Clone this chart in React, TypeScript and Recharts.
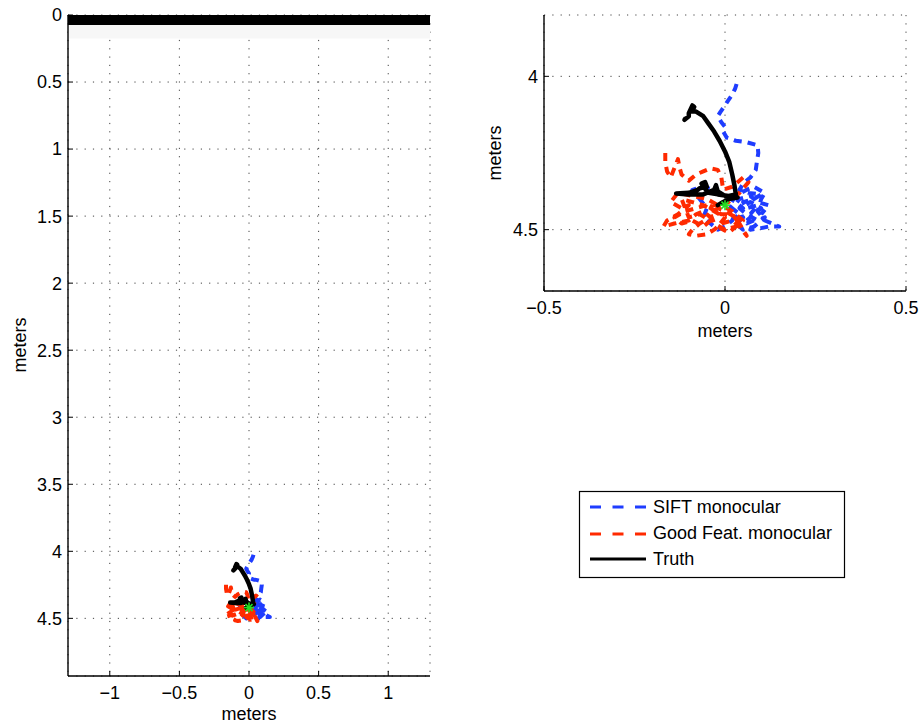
// ── Monocular SLAM trajectory comparison: full room + zoomed start ──────────

import { ScatterChart, Scatter, XAxis, YAxis, CartesianGrid, ReferenceArea } from 'recharts'

const FONT = '"Liberation Sans", Arial, Helvetica, sans-serif'

// trajectories in metres, [x, y]
const SIFT: [number, number][] = [
  [0.032, 4.025], [0.028, 4.04], [0.02, 4.06], [0.008, 4.08], [0, 4.095], [-0.012, 4.115],
  [-0.02, 4.13], [-0.01, 4.15], [0, 4.165], [-0.005, 4.18], [0.005, 4.2], [0.03, 4.21],
  [0.06, 4.215], [0.09, 4.225], [0.092, 4.25], [0.088, 4.28], [0.085, 4.305], [0.07, 4.33],
  [0.05, 4.35], [0.04, 4.37], [0.065, 4.38], [0.1, 4.385], [0.08, 4.4], [0.05, 4.41],
  [0.06, 4.43], [0.09, 4.42], [0.07, 4.45], [0.04, 4.46], [0.06, 4.48], [0.08, 4.47],
  [0.07, 4.5], [0.1, 4.495], [0.12, 4.49], [0.15, 4.49], [0.11, 4.47], [0.09, 4.44],
  [0.1, 4.4], [0.11, 4.38], [0.08, 4.36], [0.06, 4.37], [0.03, 4.39], [0.01, 4.42],
  [0.03, 4.44], [0.02, 4.47], [0, 4.49], [-0.02, 4.5], [-0.04, 4.48], [-0.06, 4.46],
  [-0.05, 4.43], [-0.07, 4.4], [-0.09, 4.37], [-0.06, 4.36], [-0.03, 4.37], [0, 4.39],
  [0.03, 4.41], [0.05, 4.43], [0.03, 4.46], [0.06, 4.47], [0.08, 4.45], [0.1, 4.43],
  [0.07, 4.41], [0.04, 4.43], [0.06, 4.45], [0.09, 4.47], [0.11, 4.46], [0.08, 4.49],
  [0.05, 4.5], [0.03, 4.48], [0.05, 4.46], [0.02, 4.43], [0.04, 4.4], [0.07, 4.39],
  [0.09, 4.41], [0.12, 4.42], [0.1, 4.45],
]

const GOOD_FEAT: [number, number][] = [
  [-0.165, 4.25], [-0.165, 4.28], [-0.16, 4.31], [-0.15, 4.33], [-0.14, 4.3], [-0.13, 4.27],
  [-0.125, 4.3], [-0.12, 4.32], [-0.1, 4.34], [-0.08, 4.32], [-0.06, 4.31], [-0.04, 4.3],
  [-0.02, 4.305], [-0.01, 4.33], [-0.005, 4.37], [0.02, 4.36], [0.05, 4.33], [0.065, 4.345],
  [0.04, 4.38], [0.01, 4.41], [-0.02, 4.42], [-0.05, 4.4], [-0.09, 4.39], [-0.13, 4.38],
  [-0.15, 4.41], [-0.12, 4.43], [-0.1, 4.42], [-0.13, 4.45], [-0.16, 4.47], [-0.17, 4.49],
  [-0.14, 4.48], [-0.1, 4.47], [-0.08, 4.45], [-0.06, 4.44], [-0.04, 4.46], [-0.07, 4.48],
  [-0.09, 4.5], [-0.1, 4.515], [-0.08, 4.52], [-0.05, 4.515], [-0.03, 4.5], [-0.01, 4.48],
  [0.02, 4.47], [0.04, 4.49], [0.06, 4.52], [0.05, 4.5], [0.03, 4.46], [0, 4.44],
  [-0.02, 4.43], [-0.04, 4.45], [-0.03, 4.48], [0, 4.5], [0.03, 4.49], [0.05, 4.47],
  [0.02, 4.44], [-0.01, 4.42], [-0.05, 4.42], [-0.08, 4.43], [-0.11, 4.44], [-0.14, 4.46],
  [-0.12, 4.48], [-0.09, 4.47], [-0.06, 4.49], [-0.04, 4.47], [-0.07, 4.45], [-0.1, 4.46],
  [-0.12, 4.4], [-0.09, 4.41], [-0.06, 4.42], [-0.03, 4.44], [0, 4.46], [-0.02, 4.49],
  [0.01, 4.51], [0.04, 4.48], [0.02, 4.45], [-0.01, 4.45], [-0.04, 4.43], [-0.03, 4.41],
]

const TRUTH: [number, number][] = [
  [-0.108, 4.135], [-0.112, 4.142], [-0.1, 4.13], [-0.1, 4.12], [-0.09, 4.095], [-0.085, 4.1],
  [-0.095, 4.115], [-0.08, 4.115], [-0.06, 4.13], [-0.045, 4.155], [-0.03, 4.18], [-0.015, 4.21],
  [0, 4.245], [0.012, 4.28], [0.02, 4.32], [0.026, 4.355], [0.03, 4.385], [0.01, 4.39],
  [-0.02, 4.385], [-0.045, 4.38], [-0.06, 4.36], [-0.065, 4.35], [-0.055, 4.345], [-0.05, 4.36],
  [-0.07, 4.365], [-0.075, 4.37], [-0.1, 4.38], [-0.135, 4.382], [-0.1, 4.385], [-0.06, 4.385],
  [-0.03, 4.37], [-0.025, 4.355], [-0.02, 4.375], [0, 4.39], [0.035, 4.395], [0.01, 4.4],
  [-0.02, 4.42], [-0.005, 4.41],
]

const START: [number, number][] = [[0, 4.42]]

const FULL_X_DOMAIN = [-1.3, 1.3]
const FULL_Y_DOMAIN = [0, 4.93]
const FULL_X_TICKS = [-1, -0.5, 0, 0.5, 1]
const FULL_Y_TICKS = [0, 0.5, 1, 1.5, 2, 2.5, 3, 3.5, 4, 4.5]

const ZOOM_X_DOMAIN = [-0.5, 0.5]
const ZOOM_Y_DOMAIN = [3.8, 4.7]
const ZOOM_X_TICKS = [-0.5, 0, 0.5]
const ZOOM_Y_TICKS = [4, 4.5]

// wall drawn along the top of the room, and the faint strip under it
const WALL_BAND = [0, 0.075]
const SHADE_BAND = [0.075, 0.175]

const SERIES = [
  { key: 'sift',  label: 'SIFT monocular',       pts: SIFT,      color: '#1f3dff', dash: '8 6', width: 4 },
  { key: 'good',  label: 'Good Feat. monocular', pts: GOOD_FEAT, color: '#ff2a00', dash: '8 6', width: 4 },
  { key: 'truth', label: 'Truth',                pts: TRUTH,     color: '#000000', dash: undefined, width: 4.5 },
]

const toXY = (pts: [number, number][]) => pts.map(([x, y]) => ({ x, y }))

const fmt = (v: number) => String(v).replace('-', '\u2212')

const Star = (p: any) => {
  const { cx, cy } = p
  const r = 5
  return (
    <g stroke="#22e022" strokeWidth={1.6}>
      <line x1={cx - r} y1={cy} x2={cx + r} y2={cy} />
      <line x1={cx} y1={cy - r} x2={cx} y2={cy + r} />
      <line x1={cx - r * 0.7} y1={cy - r * 0.7} x2={cx + r * 0.7} y2={cy + r * 0.7} />
      <line x1={cx - r * 0.7} y1={cy + r * 0.7} x2={cx + r * 0.7} y2={cy - r * 0.7} />
    </g>
  )
}

const noDot = () => <g />

interface PanelProps {
  width: number; height: number
  margin: { top: number; right: number; bottom: number; left: number }
  yAxisWidth: number; xAxisHeight: number
  xDomain: number[]; yDomain: number[]
  xTicks: number[]; yTicks: number[]
  wall?: boolean
}

function Panel(p: PanelProps) {
  const tickStyle = { fontSize: 18, fill: '#000', fontFamily: FONT }
  const axisLine = { stroke: '#000', strokeWidth: 1.4 }
  return (
    <ScatterChart width={p.width} height={p.height} margin={p.margin}>
      <CartesianGrid stroke="#444" strokeDasharray="1.2 7.1" xAxisId="b" yAxisId="l" />
      {p.wall && (
        <ReferenceArea xAxisId="b" yAxisId="l" x1={p.xDomain[0]} x2={p.xDomain[1]}
                       y1={SHADE_BAND[0]} y2={SHADE_BAND[1]} fill="#f7f7f7" fillOpacity={1} stroke="none" />
      )}
      {p.wall && (
        <ReferenceArea xAxisId="b" yAxisId="l" x1={p.xDomain[0]} x2={p.xDomain[1]}
                       y1={WALL_BAND[0]} y2={WALL_BAND[1]} fill="#000" fillOpacity={1} stroke="none" />
      )}
      <XAxis xAxisId="b" type="number" dataKey="x" domain={p.xDomain} ticks={p.xTicks} interval={0}
             allowDataOverflow height={p.xAxisHeight} tick={tickStyle} tickFormatter={fmt}
             tickSize={-5} tickMargin={15} axisLine={axisLine} tickLine={{ stroke: '#000' }} />
      <XAxis xAxisId="t" orientation="top" type="number" dataKey="x" domain={p.xDomain} ticks={p.xTicks}
             interval={0} allowDataOverflow height={0} tick={false} tickSize={-5}
             axisLine={axisLine} tickLine={{ stroke: '#000' }} />
      <YAxis yAxisId="l" type="number" dataKey="y" domain={p.yDomain} ticks={p.yTicks} interval={0}
             reversed allowDataOverflow width={p.yAxisWidth} tick={tickStyle} tickFormatter={fmt}
             tickSize={-5} tickMargin={11} axisLine={axisLine} tickLine={{ stroke: '#000' }} />
      <YAxis yAxisId="r" orientation="right" type="number" dataKey="y" domain={p.yDomain} ticks={p.yTicks}
             interval={0} reversed allowDataOverflow width={0} tick={false} tickSize={-5}
             axisLine={axisLine} tickLine={{ stroke: '#000' }} />
      {SERIES.map(s => (
        <Scatter key={s.key} xAxisId="b" yAxisId="l" data={toXY(s.pts)} shape={noDot}
                 line={{ stroke: s.color, strokeWidth: s.width, strokeDasharray: s.dash, strokeLinejoin: 'round' }}
                 fill={s.color} isAnimationActive={false} />
      ))}
      <Scatter xAxisId="b" yAxisId="l" data={toXY(START)} shape={Star} fill="#22e022" isAnimationActive={false} />
    </ScatterChart>
  )
}

export default function App() {
  return (
    <div style={{ position: 'absolute', left: 0, top: 0, width: 924, height: 724, background: '#fff', fontFamily: FONT }}>
      <div style={{ position: 'absolute', left: 0, top: 0 }}>
        <Panel width={440} height={724} margin={{ top: 15, right: 10, bottom: 0, left: 0 }}
               yAxisWidth={68} xAxisHeight={48}
               xDomain={FULL_X_DOMAIN} yDomain={FULL_Y_DOMAIN} xTicks={FULL_X_TICKS} yTicks={FULL_Y_TICKS} wall />
      </div>
      <div style={{ position: 'absolute', left: 470, top: 0 }}>
        <Panel width={454} height={350} margin={{ top: 15, right: 18, bottom: 0, left: 0 }}
               yAxisWidth={74} xAxisHeight={59}
               xDomain={ZOOM_X_DOMAIN} yDomain={ZOOM_Y_DOMAIN} xTicks={ZOOM_X_TICKS} yTicks={ZOOM_Y_TICKS} />
      </div>
      <svg width={924} height={724} style={{ position: 'absolute', left: 0, top: 0, pointerEvents: 'none' }}
           fontFamily={FONT} fontSize={18}>
        <text x={249} y={720} textAnchor="middle">meters</text>
        <text x={725} y={337} textAnchor="middle">meters</text>
        <text transform="translate(26,345) rotate(-90)" textAnchor="middle">meters</text>
        <text transform="translate(501,153) rotate(-90)" textAnchor="middle">meters</text>

        <rect x={579.5} y={491.5} width={265} height={86} fill="#fff" stroke="#000" strokeWidth={1.2} />
        {SERIES.map((s, i) => {
          const ly = [507, 534, 559][i]
          const ty = [513, 539, 565][i]
          return (
            <g key={s.key}>
              <line x1={590} y1={ly} x2={646} y2={ly} stroke={s.color} strokeWidth={3}
                    strokeDasharray={s.dash ? '11 11.5' : undefined} />
              <text x={653} y={ty}>{s.label}</text>
            </g>
          )
        })}
      </svg>
    </div>
  )
}
